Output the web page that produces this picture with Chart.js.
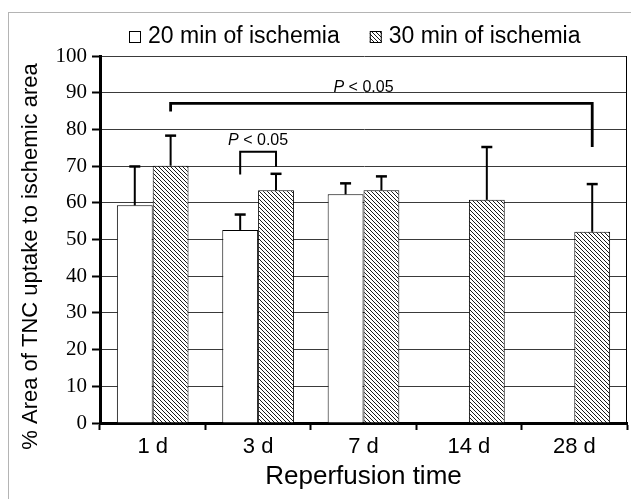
<!DOCTYPE html>
<html><head><meta charset="utf-8">
<script src="https://cdn.jsdelivr.net/npm/chart.js@4.4.0/dist/chart.umd.min.js"></script>
<style>
html,body{margin:0;padding:0;background:#fff;}
#wrap{position:relative;width:631px;height:502px;overflow:hidden;}
#frame{position:absolute;left:8px;top:12px;width:700px;height:486px;border-left:1px solid #b4b4b4;border-top:1px solid #b4b4b4;}
canvas{position:absolute;left:0;top:0;}
</style></head><body>
<div id="wrap"><div id="frame"></div><canvas id="c" width="631" height="502"></canvas></div>
<script>
const categories = ['1 d', '3 d', '7 d', '14 d', '28 d'];
const seriesLabels = ['20 min of ischemia', '30 min of ischemia'];
const mean20 = [59.3, 52.6, 62.3, null, null];
const err20 = [10.6, 4.2, 3.0, null, null];
const mean30 = [70.1, 63.4, 63.4, 60.8, 52.1];
const err30 = [8.2, 4.5, 3.8, 14.4, 13.0];
const yAxisTitle = '% Area of TNC uptake to ischemic area';
const xAxisTitle = 'Reperfusion time';
// significance brackets: [datasetIndex, categoryIndex] of each end
const bracketFrom = [[1, 0], [0, 1]];
const bracketTo = [[1, 4], [1, 1]];
const bracketLevel = [87.1, 73.9];
const bracketLeftEnd = [84.9, 67.7];
const bracketRightEnd = [75.2, 69.8];
const bracketLabelP = ['P', 'P'];
const bracketLabelRest = [' < 0.05', ' < 0.05'];
const bracketLabelBase = [90.3, 75.7];
const bracketLabelCategory = [2, null];

const canvas = document.getElementById('c');
const ctx0 = canvas.getContext('2d');
function makeHatch() {
  const p = document.createElement('canvas');
  p.width = 4; p.height = 4;
  const g = p.getContext('2d');
  g.fillStyle = '#fff'; g.fillRect(0, 0, 4, 4);
  g.fillStyle = '#1a1a1a';
  for (let i = 0; i < 4; i++) g.fillRect(i, i, 1, 1);
  return ctx0.createPattern(p, 'repeat');
}
const hatch = makeHatch();
const errs = [err20, err30];

const overlay = {
  id: 'overlay',
  afterDatasetsDraw(chart) {
    const ctx = chart.ctx;
    const ys = chart.scales.y, xs = chart.scales.x;
    ctx.save();
    ctx.strokeStyle = '#000';
    // error bars
    chart.data.datasets.forEach((ds, di) => {
      const meta = chart.getDatasetMeta(di);
      meta.data.forEach((el, j) => {
        const v = ds.data[j], e = errs[di][j];
        if (v == null || e == null) return;
        const yTop = ys.getPixelForValue(v + e);
        ctx.lineWidth = 2;
        ctx.beginPath();
        ctx.moveTo(el.x, el.y);
        ctx.lineTo(el.x, yTop);
        ctx.stroke();
        ctx.lineWidth = 2.5;
        ctx.beginPath();
        ctx.moveTo(el.x - 5.5, yTop);
        ctx.lineTo(el.x + 5.5, yTop);
        ctx.stroke();
      });
    });
    // brackets
    bracketFrom.forEach((f, k) => {
      const t = bracketTo[k];
      const x1 = chart.getDatasetMeta(f[0]).data[f[1]].x;
      const x2 = chart.getDatasetMeta(t[0]).data[t[1]].x;
      const yb = ys.getPixelForValue(bracketLevel[k]);
      const yl = ys.getPixelForValue(bracketLeftEnd[k]);
      const yr = ys.getPixelForValue(bracketRightEnd[k]);
      ctx.lineWidth = k === 0 ? 2.8 : 2;
      ctx.beginPath();
      ctx.moveTo(x1, yl); ctx.lineTo(x1, yb); ctx.lineTo(x2, yb); ctx.lineTo(x2, yr);
      ctx.stroke();
      const cx = bracketLabelCategory[k] != null ? xs.getPixelForValue(bracketLabelCategory[k]) : (x1 + x2) / 2;
      const base = ys.getPixelForValue(bracketLabelBase[k]);
      const fItal = 'italic 16px "Liberation Sans", Arial, sans-serif';
      const fNorm = '16px "Liberation Sans", Arial, sans-serif';
      ctx.font = fItal; const w1 = ctx.measureText(bracketLabelP[k]).width;
      ctx.font = fNorm; const w2 = ctx.measureText(bracketLabelRest[k]).width;
      const sx = cx - (w1 + w2) / 2;
      ctx.fillStyle = '#000';
      ctx.textBaseline = 'alphabetic'; ctx.textAlign = 'left';
      ctx.font = fItal; ctx.fillText(bracketLabelP[k], sx, base);
      ctx.font = fNorm; ctx.fillText(bracketLabelRest[k], sx + w1, base);
    });
    ctx.restore();
  },
  afterDraw(chart) {
    const ctx = chart.ctx, a = chart.chartArea, ys = chart.scales.y;
    ctx.save();
    // right frame of plot
    ctx.strokeStyle = '#000'; ctx.lineWidth = 1;
    ctx.beginPath(); ctx.moveTo(a.right - 0.5, a.top); ctx.lineTo(a.right - 0.5, a.bottom); ctx.stroke();
    // minor ticks on y axis (shorter)
    ctx.lineWidth = 2;
    ys.ticks.forEach(t => {
      if (t.value % 10 === 0) return;
      const py = Math.round(ys.getPixelForValue(t.value));
      ctx.beginPath(); ctx.moveTo(a.left - 5, py); ctx.lineTo(a.left, py); ctx.stroke();
    });
    // y title
    ctx.fillStyle = '#000';
    ctx.font = '22px "Liberation Sans", Arial, sans-serif';
    ctx.textAlign = 'center'; ctx.textBaseline = 'middle';
    ctx.translate(31, (a.top + a.bottom) / 2 + 17);
    ctx.rotate(-Math.PI / 2);
    ctx.fillText(yAxisTitle, 0, 0);
    ctx.restore();
    // legend
    ctx.save();
    ctx.font = '23px "Liberation Sans", Arial, sans-serif';
    ctx.textBaseline = 'middle'; ctx.textAlign = 'left';
    let x = 129; const yc = 37, box = 12, gap = 7, itemGap = 30;
    chart.data.datasets.forEach((ds, i) => {
      ctx.fillStyle = ds.backgroundColor;
      ctx.fillRect(x, yc - box / 2, box, box);
      ctx.strokeStyle = '#000'; ctx.lineWidth = 1;
      ctx.strokeRect(x + 0.5, yc - box / 2 + 0.5, box - 1, box - 1);
      ctx.fillStyle = '#000';
      ctx.fillText(ds.label, x + box + gap, yc);
      x += box + gap + ctx.measureText(ds.label).width + itemGap;
    });
    ctx.restore();
  }
};

new Chart(canvas, {
  type: 'bar',
  data: {
    labels: categories,
    datasets: [
      { label: seriesLabels[0], data: mean20, backgroundColor: '#ffffff', borderColor: '#000', borderWidth: 1 },
      { label: seriesLabels[1], data: mean30, backgroundColor: hatch, borderColor: '#000', borderWidth: 1 }
    ]
  },
  options: {
    responsive: false,
    animation: false,
    layout: { padding: { left: 0, right: 4, top: 56, bottom: 0 } },
    datasets: { bar: { categoryPercentage: 0.68, barPercentage: 1.0 } },
    plugins: { legend: { display: false }, tooltip: { enabled: false } },
    scales: {
      x: {
        grid: { offset: true, drawOnChartArea: false, drawTicks: true, tickLength: 7, tickWidth: 2, tickColor: '#000' },
        border: { display: true, color: '#000', width: 3 },
        ticks: { color: '#000', font: { family: '"Liberation Sans", Arial, sans-serif', size: 22 }, padding: 4 },
        title: { display: true, text: xAxisTitle, color: '#000', font: { family: '"Liberation Sans", Arial, sans-serif', size: 26 }, padding: { top: 0, bottom: 10 } },
        afterFit(s) { s.height = 79; }
      },
      y: {
        min: 0, max: 100,
        ticks: { stepSize: 5, color: '#000', font: { family: '"Liberation Serif", "Times New Roman", serif', size: 21 }, padding: 5,
          callback: v => (v % 10 === 0 ? String(v) : '') },
        grid: { color: c => (c.tick && c.tick.value % 10 === 0 ? '#3a3a3a' : 'rgba(0,0,0,0)'),
          tickColor: c => (c.tick && c.tick.value % 10 === 0 ? '#000' : 'rgba(0,0,0,0)'),
          lineWidth: 1, tickLength: 8, tickWidth: 2 },
        border: { color: '#000', width: 3 },
        afterFit(s) { s.width = 100; }
      }
    }
  },
  plugins: [overlay]
});
</script>
</body></html>
